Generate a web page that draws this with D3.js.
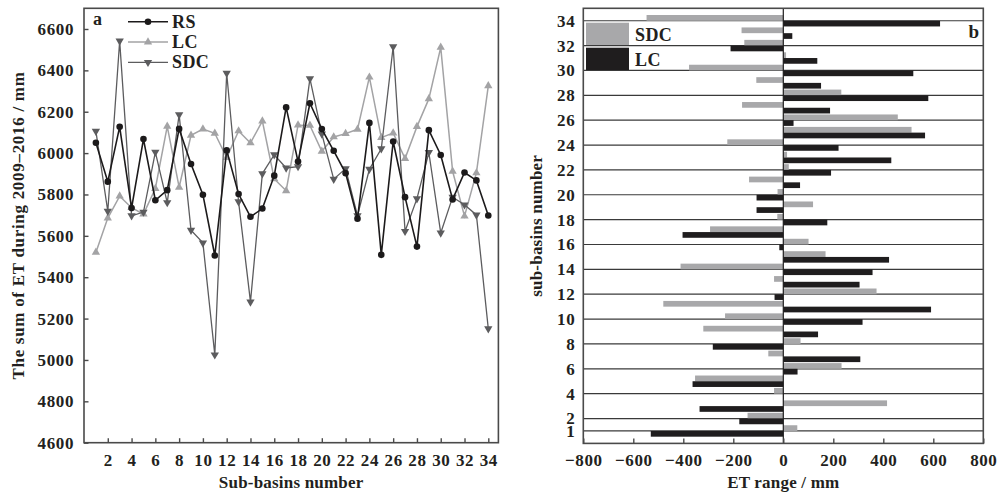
<!DOCTYPE html>
<html>
<head>
<meta charset="utf-8">
<script src="https://cdn.jsdelivr.net/npm/d3@7"></script>
<style>
  html, body { margin: 0; padding: 0; background: #fff; }
  svg text { font-family: "Liberation Serif", "Times New Roman", serif; font-weight: bold; fill: #231f20; }
</style>
</head>
<body>
<svg id="chart" width="998" height="492"></svg>
<script>
// Sub-basin numbers
const subBasins = [1,2,3,4,5,6,7,8,9,10,11,12,13,14,15,16,17,18,19,20,21,22,23,24,25,26,27,28,29,30,31,32,33,34];

// (a) Sum of ET during 2009–2016 (mm)
const rsSum  = [6050,5862,6127,5734,6068,5772,5821,6117,5947,5799,5505,6013,5802,5692,5732,5891,6221,5959,6241,6116,6011,5903,5683,6146,5508,6056,5787,5548,6111,5991,5776,5906,5868,5698];
const lcSum  = [5520,5686,5792,5736,5705,5829,6129,5835,6086,6116,6096,5978,6107,6049,6155,5875,5818,6135,6134,6009,6078,6094,6115,6367,6075,6097,5974,6128,6262,6511,5912,5695,5904,6325];
const sdcSum = [6106,5719,6542,5697,5715,6005,5761,6186,5627,5566,5025,6386,5765,5281,5901,5992,5928,5935,6360,6093,5874,5925,5698,5922,6021,6514,5622,5780,6003,5614,5787,5750,5701,5151];

// (b) ET range relative to RS (mm)
const lcRange  = [-530,-176,-335,2,-363,57,308,-282,139,317,591,-35,305,357,423,-16,-403,176,-107,-107,67,191,432,221,567,41,187,580,151,520,136,-211,36,627];
const sdcRange = [56,-143,415,-37,-353,233,-60,69,-320,-233,-480,373,-37,-411,169,101,-293,-24,119,-23,-137,22,15,-224,513,458,-165,232,-108,-377,11,-156,-167,-547];

// Axis ticks and labels
const yTicksA = [4600,4800,5000,5200,5400,5600,5800,6000,6200,6400,6600];
const xTicksA = [2,4,6,8,10,12,14,16,18,20,22,24,26,28,30,32,34];
const xTicksB = [-800,-600,-400,-200,0,200,400,600,800];
const yTicksB = [1,2,4,6,8,10,12,14,16,18,20,22,24,26,28,30,32,34];

const series = [
  { name: "LC",  values: lcSum,  color: "#a3a3a5", width: 1.5, symbol: "up" },
  { name: "SDC", values: sdcSum, color: "#5c5c5e", width: 1.3, symbol: "down" },
  { name: "RS",  values: rsSum,  color: "#1c1a1b", width: 1.6, symbol: "circle" }
];
const legendOrder = ["RS", "LC", "SDC"];

const svg = d3.select("#chart");
const axisColor = "#4a4a4a";
const fontSize = 17;

// ---------- Panel (a): line chart ----------
const xA = d3.scaleLinear().domain([0, 34.85]).range([84, 498.4]);
const yA = d3.scaleLinear().domain([4600, 6700]).range([442.7, 8.3]);

const gA = svg.append("g");

// frame
gA.append("rect")
  .attr("x", xA(0)).attr("y", yA(6700))
  .attr("width", xA(34.85) - xA(0)).attr("height", yA(4600) - yA(6700))
  .attr("fill", "none").attr("stroke", axisColor).attr("stroke-width", 1.6);

// x axis ticks (inward) and labels
const xAxisA = d3.axisBottom(xA).tickValues(xTicksA).tickSizeInner(-4.5).tickSizeOuter(0).tickPadding(11);
gA.append("g").attr("transform", `translate(0,${yA(4600)})`).call(xAxisA)
  .call(g => g.select(".domain").remove())
  .call(g => g.selectAll(".tick line").attr("stroke", axisColor).attr("stroke-width", 1.4))
  .call(g => g.selectAll(".tick text").attr("font-size", fontSize).attr("letter-spacing", 0.6).attr("dy", "0.71em"));

// y axis ticks (inward) and labels
const yAxisA = d3.axisLeft(yA).tickValues(yTicksA).tickSizeInner(-4.5).tickSizeOuter(0).tickPadding(10).tickFormat(d3.format("d"));
gA.append("g").attr("transform", `translate(${xA(0)},0)`).call(yAxisA)
  .call(g => g.select(".domain").remove())
  .call(g => g.selectAll(".tick line").attr("stroke", axisColor).attr("stroke-width", 1.4))
  .call(g => g.selectAll(".tick text").attr("font-size", fontSize).attr("letter-spacing", 0.6));

// symbols
const triSize = 30;
function markerPath(kind) {
  if (kind === "circle") return d3.symbol().type(d3.symbolCircle).size(Math.PI * 3.3 * 3.3)();
  return d3.symbol().type(d3.symbolTriangle).size(triSize)();
}
function markerTransform(kind, x, y) {
  return kind === "down" ? `translate(${x},${y}) rotate(180)` : `translate(${x},${y})`;
}

const line = d3.line();
series.forEach(s => {
  const pts = subBasins.map((n, i) => [xA(n), yA(s.values[i])]);
  gA.append("path")
    .attr("d", line(pts))
    .attr("fill", "none").attr("stroke", s.color).attr("stroke-width", s.width)
    .attr("stroke-linejoin", "miter");
  gA.append("g").selectAll("path").data(pts).join("path")
    .attr("d", markerPath(s.symbol))
    .attr("transform", d => markerTransform(s.symbol, d[0], d[1]))
    .attr("fill", s.color);
});

// legend (a)
const legA = gA.append("g");
legendOrder.forEach((name, i) => {
  const s = series.find(d => d.name === name);
  const cy = 21.7 + i * 20.3;
  legA.append("line").attr("x1", 128).attr("x2", 168).attr("y1", cy).attr("y2", cy)
    .attr("stroke", s.color).attr("stroke-width", s.width);
  legA.append("path").attr("d", markerPath(s.symbol))
    .attr("transform", markerTransform(s.symbol, 148, cy)).attr("fill", s.color);
  legA.append("text").attr("x", 172).attr("y", cy + 5.8)
    .attr("font-size", 18).attr("letter-spacing", 0.4).text(name);
});
gA.append("text").attr("x", 93).attr("y", 25).attr("font-size", 18).text("a");

// axis titles (a)
gA.append("text")
  .attr("x", (xA(0) + xA(34.85)) / 2).attr("y", 488)
  .attr("text-anchor", "middle").attr("font-size", fontSize).attr("letter-spacing", 0.2)
  .text("Sub-basins number");
gA.append("text")
  .attr("transform", `translate(24,${(yA(4600) + yA(6700)) / 2}) rotate(-90)`)
  .attr("text-anchor", "middle").attr("font-size", fontSize).attr("letter-spacing", 0.7)
  .text("The sum of ET during 2009\u20132016 / mm");

// ---------- Panel (b): horizontal bars ----------
const xB = d3.scaleLinear().domain([-800, 800]).range([583.3, 983.3]);
const yB = d3.scaleLinear().domain([0, 35]).range([443.4, 8.3]);
const barH = 0.46;
const gB = svg.append("g");

// horizontal rules at labelled sub-basins
gB.append("g").selectAll("line").data(yTicksB).join("line")
  .attr("x1", xB(-800)).attr("x2", xB(800))
  .attr("y1", d => yB(d)).attr("y2", d => yB(d))
  .attr("stroke", "#3a3a3a").attr("stroke-width", 1.2);

// SDC bars (above each rule), LC bars (below)
gB.append("g").selectAll("rect").data(subBasins).join("rect")
  .attr("x", (n, i) => xB(Math.min(0, sdcRange[i])))
  .attr("width", (n, i) => Math.abs(xB(sdcRange[i]) - xB(0)))
  .attr("y", n => yB(n + barH))
  .attr("height", yB(0) - yB(barH))
  .attr("fill", "#a8a8aa");
gB.append("g").selectAll("rect").data(subBasins).join("rect")
  .attr("x", (n, i) => xB(Math.min(0, lcRange[i])))
  .attr("width", (n, i) => Math.abs(xB(lcRange[i]) - xB(0)))
  .attr("y", n => yB(n))
  .attr("height", yB(0) - yB(barH))
  .attr("fill", "#1f1d1e");

// zero line
gB.append("line").attr("x1", xB(0)).attr("x2", xB(0)).attr("y1", yB(35)).attr("y2", yB(0))
  .attr("stroke", "#1f1d1e").attr("stroke-width", 1.2);

// frame
gB.append("rect")
  .attr("x", xB(-800)).attr("y", yB(35))
  .attr("width", xB(800) - xB(-800)).attr("height", yB(0) - yB(35))
  .attr("fill", "none").attr("stroke", axisColor).attr("stroke-width", 1.6);

// x axis (b)
const xAxisB = d3.axisBottom(xB).tickValues(xTicksB).tickSizeInner(-5).tickSizeOuter(0).tickPadding(11);
gB.append("g").attr("transform", `translate(0,${yB(0)})`).call(xAxisB)
  .call(g => g.select(".domain").remove())
  .call(g => g.selectAll(".tick line").attr("stroke", axisColor).attr("stroke-width", 1.4))
  .call(g => g.selectAll(".tick text").attr("font-size", fontSize).attr("letter-spacing", 0.6).attr("dy", "0.71em"));

// y axis (b)
const yAxisB = d3.axisLeft(yB).tickValues(yTicksB).tickSize(0).tickPadding(8);
gB.append("g").attr("transform", `translate(${xB(-800)},0)`).call(yAxisB)
  .call(g => g.select(".domain").remove())
  .call(g => g.selectAll(".tick text").attr("font-size", fontSize).attr("letter-spacing", 0.6));

// legend (b)
const legB = gB.append("g");
[["SDC", "#a8a8aa", 22.7], ["LC", "#1f1d1e", 47.7]].forEach(([name, color, y]) => {
  legB.append("rect").attr("x", 586).attr("y", y).attr("width", 43).attr("height", 22.3)
    .attr("fill", color);
  legB.append("text").attr("x", 635).attr("y", y + 18).attr("font-size", 18)
    .attr("letter-spacing", 0.4).text(name);
});
gB.append("text").attr("x", 979).attr("y", 37.7).attr("text-anchor", "end").attr("font-size", 19).text("b");

// axis titles (b)
gB.append("text")
  .attr("x", xB(0)).attr("y", 488)
  .attr("text-anchor", "middle").attr("font-size", fontSize).attr("letter-spacing", 0.2)
  .text("ET range / mm");
gB.append("text")
  .attr("transform", `translate(542,${(yB(0) + yB(35)) / 2}) rotate(-90)`)
  .attr("text-anchor", "middle").attr("font-size", fontSize).attr("letter-spacing", 0.2)
  .text("sub-basins number");
</script>
</body>
</html>
